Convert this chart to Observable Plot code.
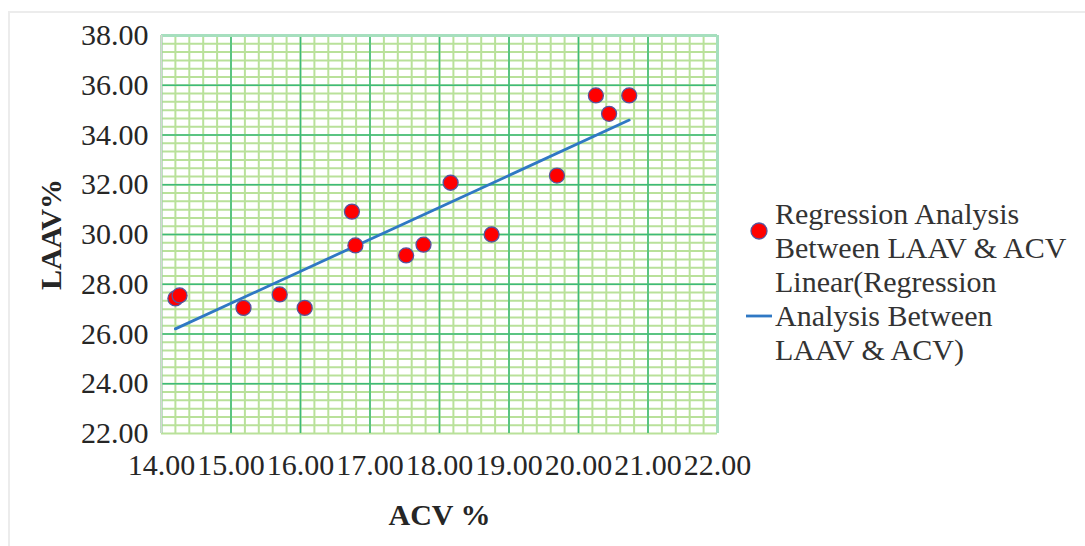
<!DOCTYPE html>
<html><head><meta charset="utf-8">
<script src="https://cdn.jsdelivr.net/npm/d3@7"></script>
<script src="https://cdn.jsdelivr.net/npm/@observablehq/plot@0.6"></script>
<style>
html,body{margin:0;padding:0;background:#fff;}
#wrap{position:relative;width:1085px;height:546px;overflow:hidden;background:#fff;}
#edge{position:absolute;left:8px;top:11px;right:-5px;bottom:-5px;border-left:2px solid #ececec;border-top:2px solid #ececec;pointer-events:none;}
#legend{position:absolute;left:742px;top:197px;font-family:"Liberation Serif","Times New Roman",serif;font-size:30px;line-height:34px;color:#333;}
.entry{display:flex;align-items:center;}
.key{width:33px;flex:none;display:flex;justify-content:center;align-items:center;}
svg [aria-label="x-axis label"], svg [aria-label="y-axis label"]{font-weight:bold;}
</style></head>
<body><div id="wrap"><div id="chart"></div><div id="legend"></div><div id="edge"></div></div>
<script>
// ACV % (x) and LAAV % (y)
const acv  = [14.20, 14.26, 15.18, 15.70, 16.06, 16.74, 16.79, 17.52, 17.77, 18.16, 18.75, 19.69, 20.25, 20.44, 20.73];
const laav = [27.43, 27.55, 27.05, 27.59, 27.05, 30.92, 29.56, 29.16, 29.59, 32.08, 30.00, 32.37, 35.59, 34.85, 35.59];
const xTicks = [14, 15, 16, 17, 18, 19, 20, 21, 22];
const yTicks = [22, 24, 26, 28, 30, 32, 34, 36, 38];
const seriesLines = ["Regression Analysis", "Between LAAV & ACV"];
const trendLines = ["Linear(Regression", "Analysis Between", "LAAV & ACV)"];

const data = acv.map((x, i) => ({acv: x, laav: laav[i]}));
const xMinor = d3.range(0, 41).map(i => 14 + i / 5);
const yMinor = d3.range(0, 49).map(i => 22 + i / 3);
const fmt = d3.format(".2f");

const plot = Plot.plot({
  width: 1085, height: 546,
  marginLeft: 161, marginRight: 368, marginTop: 35, marginBottom: 113,
  style: {fontFamily: '"Liberation Serif", "Times New Roman", serif', fontSize: "30px", color: "#262626", background: "transparent", overflow: "visible"},
  x: {domain: [14, 22], ticks: xTicks, tickFormat: fmt, tickSize: 0, tickPadding: 20,
      label: "ACV %", labelAnchor: "center", labelOffset: 91, labelArrow: "none"},
  y: {domain: [22, 38], ticks: yTicks, tickFormat: fmt, tickSize: 0, tickPadding: 13,
      label: "LAAV%", labelAnchor: "center", labelOffset: 122, labelArrow: "none"},
  marks: [
    Plot.ruleX(xMinor, {stroke: "#b9e19a", strokeWidth: 2}),
    Plot.ruleY(yMinor, {stroke: "#b9e19a", strokeWidth: 2}),
    Plot.ruleX(xTicks, {stroke: "#3dba7a", strokeWidth: 1.5}),
    Plot.ruleY(yTicks.slice(1), {stroke: "#3dba7a", strokeWidth: 1.5}),
    Plot.ruleY([38], {stroke: "#a6dfbe", strokeWidth: 3}),
    Plot.ruleX([22], {stroke: "#a6dfbe", strokeWidth: 3}),
    Plot.ruleX([14], {stroke: "#d6d6d6", strokeWidth: 1.5}),
    Plot.linearRegressionY(data, {x: "acv", y: "laav", ci: 0, stroke: "#2f78c4", strokeWidth: 2.8}),
    Plot.dot(data, {x: "acv", y: "laav", r: 7.5, fill: "#ff0000", stroke: "#55559f", strokeWidth: 1.3})
  ]
});
document.getElementById("chart").appendChild(plot);

// legend
const legend = document.getElementById("legend");
function entry(keySvg, lines) {
  const e = document.createElement("div");
  e.className = "entry";
  const k = document.createElement("div");
  k.className = "key";
  k.innerHTML = keySvg;
  const t = document.createElement("div");
  t.innerHTML = lines.map(s => s.replace(/&/g, "&amp;")).join("<br>");
  e.appendChild(k); e.appendChild(t);
  legend.appendChild(e);
}
entry('<svg width="20" height="20"><circle cx="10" cy="10" r="8" fill="#ff0000" stroke="#55559f" stroke-width="1.3"/></svg>', seriesLines);
entry('<svg width="28" height="6"><line x1="1" x2="27" y1="3" y2="3" stroke="#2f78c4" stroke-width="2.8"/></svg>', trendLines);
</script>
</body></html>
